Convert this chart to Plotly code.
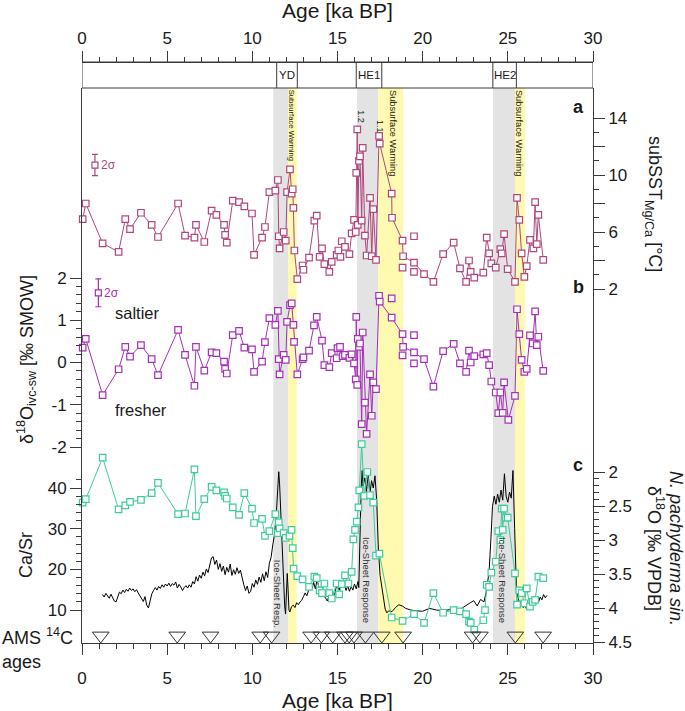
import plotly.graph_objects as go

# ---------------- data ----------------
age_sst = [0.04, 0.22, 1.21, 2.15, 2.54, 2.82, 3.46, 4.09, 4.46, 5.64, 6.05, 6.6, 6.69, 7.18, 7.61, 7.89,
           8.34, 8.4, 8.5, 8.85, 9.22, 9.53, 9.98, 10.1, 10.57, 10.74, 11.0, 11.35, 11.5, 11.55, 11.6, 11.84,
           11.96, 12.04, 12.21, 12.31, 12.37, 12.41, 12.47, 12.64, 12.95, 13.0, 13.33, 13.64, 13.78, 13.95,
           14.09, 14.23, 14.52, 14.66, 14.95, 15.05, 15.17, 15.25, 15.44, 15.7, 15.83, 15.97, 16.07, 16.1,
           16.16, 16.19, 16.26, 16.32, 16.42, 16.48, 16.61, 16.71, 16.91, 17.01, 17.1, 17.26, 17.44, 17.48,
           18.18, 18.2, 18.82, 18.85, 19.49, 20.08, 20.63, 21.2, 21.82, 22.19, 22.55, 22.72, 22.82, 23.03,
           23.56, 23.76, 23.9, 24.03, 24.29, 24.56, 24.64, 24.78, 24.99, 25.42, 25.54, 25.67, 25.81, 25.97,
           26.11, 26.3, 26.5, 26.6, 26.7, 26.79, 27.08]
sst = [6.9, 8.0, 5.2, 4.6, 6.9, 6.2, 7.35, 6.5, 5.65, 8.0, 5.75, 5.6, 6.5, 5.3, 7.5, 7.2,
       6.5, 5.8, 5.25, 8.2, 8.1, 7.8, 7.3, 4.4, 5.6, 6.35, 8.8, 8.9, 9.65, 5.7, 4.85, 6.0,
       5.4, 8.8, 10.4, 8.7, 9.0, 7.7, 4.7, 2.7, 3.65, 3.35, 4.2, 6.8, 7.15, 4.25,
       4.85, 3.75, 3.2, 3.9, 4.4, 4.7, 4.25, 5.35, 4.95, 4.45, 5.9, 6.85, 6.0, 10.15,
       13.2, 6.5, 11.0, 11.3, 6.8, 11.9, 5.75, 4.35, 8.4, 4.3, 7.6, 4.05, 12.75, 12.2,
       8.7, 7.0, 5.4, 4.3, 3.85, 3.05, 2.5, 4.45, 5.25, 3.45, 2.5, 4.0, 3.2, 2.8,
       3.15, 5.6, 4.5, 3.8, 3.5, 4.8, 4.5, 5.85, 3.4, 2.5, 8.4, 6.85, 4.5, 2.85,
       3.6, 5.45, 4.85, 8.1, 5.15, 7.2, 4.05]
age_sst_rep = [18.82, 19.49, 19.49]
sst_rep = [3.5, 5.7, 3.2]

age_sw = [0.04, 0.22, 1.21, 2.15, 2.54, 2.82, 3.46, 4.09, 4.46, 5.64, 6.05, 6.6, 6.69, 7.18, 7.61, 7.89,
          8.34, 8.4, 8.5, 8.85, 9.22, 9.53, 9.98, 10.1, 10.57, 10.74, 11.0, 11.35, 11.5, 11.55, 11.6, 11.84,
          11.96, 12.04, 12.21, 12.31, 12.41, 12.45, 12.64, 12.95, 13.0, 13.33, 13.62, 13.78, 14.09, 14.23,
          14.52, 14.66, 14.95, 15.0, 15.15, 15.3, 15.44, 15.7, 15.83, 15.97, 16.07, 16.1, 16.16, 16.19,
          16.26, 16.32, 16.42, 16.48, 16.61, 16.71, 16.91, 17.01, 17.1, 17.26, 17.44, 17.48, 18.18, 18.82,
          18.85, 19.49, 20.08, 20.63, 21.2, 21.82, 22.19, 22.55, 22.72, 22.82, 23.03, 23.56, 23.76, 23.9,
          24.03, 24.29, 24.44, 24.56, 24.7, 24.78, 25.03, 25.42, 25.54, 25.67, 25.81, 25.97, 26.11, 26.3,
          26.46, 26.6, 26.7, 26.79, 27.08]
d18o_sw = [0.35, 0.56, -0.77, -0.16, 0.37, 0.14, 0.41, 0.08, -0.3, 0.77, 0.18, -0.55, 0.37, -0.19, 0.24, 0.22,
           0.02, -0.15, -0.26, 0.65, 0.75, 0.35, 0.31, -0.22, 0.02, 0.48, 1.05, 0.89, 1.22, 0.08, -0.28, 0.18,
           0.06, 0.96, 1.36, 1.4, 0.89, 0.49, -0.28, 0.08, 0.12, 0.28, 0.88, 1.08, 0.52, -0.06,
           -0.11, 0.22, 0.1, 0.34, 0.37, 0.15, 0.18, 0.11, 0.19, -0.02, -0.4, 1.08, -0.53, 0.56,
           0.37, 0.45, -1.46, 0.71, -0.95, -1.69, -0.28, -1.26, -0.47, -0.63, 1.58, 1.44, 1.06, 0.67,
           0.37, 0.24, 0.08, -0.57, 0.27, 0.44, -0.02, -0.22, 0.28, 0.0, 0.15, 0.19, 0.22, -0.06,
           -0.45, -0.71, -1.2, -0.71, -1.19, -0.47, -1.36, -0.79, 1.26, 0.67, 0.06, -0.22, -0.15, 0.64,
           0.45, 1.21, 0.41, 0.61, -0.2]
age_sw_rep = [18.18, 18.82, 19.49, 19.49]
d18o_sw_rep = [1.52, 0.17, 0.65, -0.02]

age_npach = [0.04, 0.22, 1.21, 2.15, 2.54, 2.82, 3.46, 4.09, 4.46, 5.64, 6.05, 6.6, 6.69, 7.18, 7.61, 7.89,
             8.34, 8.4, 8.5, 8.85, 9.22, 9.53, 9.98, 10.1, 10.57, 10.74, 11.0, 11.35, 11.5, 11.55, 11.6, 11.84,
             11.96, 12.18, 12.3, 12.37, 12.42, 12.64, 12.95, 13.33, 13.64, 13.78, 13.95, 14.09, 14.23, 14.52,
             14.66, 14.95, 15.1, 15.25, 15.44, 15.64, 15.83, 15.93, 16.03, 16.13, 16.23, 16.28, 16.42, 16.57,
             16.75, 16.91, 17.1, 17.26, 17.46, 18.18, 18.82, 19.49, 20.08, 20.63, 21.2, 21.82, 22.19, 22.55,
             22.72, 22.82, 23.03, 23.56, 23.66, 23.76, 23.9, 24.03, 24.29, 24.44, 24.56, 24.64, 24.7, 24.78,
             24.89, 24.99, 25.42, 25.54, 25.67, 25.81, 25.97, 26.11, 26.3, 26.46, 26.6, 26.79, 27.08]
d18o_npach = [2.45, 2.4, 1.79, 2.55, 2.49, 2.44, 2.41, 2.31, 2.16, 2.62, 2.61, 1.96, 2.65, 2.4, 2.22, 2.27,
              2.3, 2.35, 2.39, 2.52, 2.63, 2.31, 2.54, 2.75, 2.69, 2.94, 2.87, 2.62, 2.9, 2.74, 2.83, 2.9,
              2.97, 2.94, 2.85, 3.12, 3.42, 3.53, 3.58, 3.69, 3.54, 3.56, 3.74, 3.78, 3.64, 3.78,
              3.86, 3.64, 3.8, 3.65, 3.52, 3.64, 3.47, 2.99, 2.85, 2.73, 2.52, 2.27, 1.59, 2.35,
              2.0, 2.34, 2.45, 3.23, 3.2, 4.14, 4.19, 4.09, 4.22, 3.78, 4.07, 4.03, 4.05, 4.09,
              4.2, 4.22, 4.32, 4.18, 4.03, 3.66, 3.69, 3.48, 3.32, 2.87, 3.0, 2.54, 2.85, 2.54,
              2.67, 2.67, 3.49, 3.95, 3.74, 3.78, 3.93, 3.71, 3.98, 3.91, 3.88, 3.54, 3.56]

age_casr = [1.2, 1.3, 1.4, 1.5, 1.6, 1.7, 1.8, 1.9, 2.0, 2.1, 2.2, 2.3, 2.4, 2.5, 2.6, 2.7, 2.8, 2.9, 3.0,
            3.1, 3.2, 3.3, 3.4, 3.5, 3.6, 3.7, 3.8, 3.9, 4.0, 4.1, 4.2, 4.3, 4.4, 4.5, 4.6, 4.7, 4.8, 4.9,
            5.0, 5.1, 5.2, 5.3, 5.4, 5.5, 5.6, 5.7, 5.8, 5.9, 6.0, 6.1, 6.2, 6.3, 6.4, 6.5, 6.6, 6.7, 6.8,
            6.9, 7.0, 7.1, 7.2, 7.3, 7.4, 7.5, 7.6, 7.7, 7.8, 7.9, 8.0, 8.1, 8.2, 8.3, 8.4, 8.5, 8.6, 8.7,
            8.8, 8.9, 9.0, 9.1, 9.2, 9.3, 9.4, 9.5, 9.6, 9.7, 9.8, 9.9, 10.0, 10.1, 10.2, 10.3, 10.4, 10.5,
            10.6, 10.7, 10.8, 10.9, 11.0, 11.1, 11.2, 11.3, 11.4, 11.45, 11.5, 11.55, 11.6, 11.65, 11.7,
            11.75, 11.8, 11.85, 11.9, 11.95, 12.0, 12.05, 12.1, 12.15, 12.2, 12.3, 12.4, 12.5, 12.6, 12.7,
            12.8, 12.9, 13.0, 13.1, 13.2, 13.3, 13.4, 13.5, 13.6, 13.7, 13.8, 13.9, 14.0, 14.1, 14.2, 14.3,
            14.4, 14.5, 14.6, 14.7, 14.8, 14.9, 15.0, 15.1, 15.2, 15.3, 15.4, 15.5, 15.6, 15.7, 15.8, 15.9,
            16.0, 16.1, 16.2, 16.25, 16.3, 16.35, 16.4, 16.45, 16.5, 16.6, 16.7, 16.8, 16.9, 17.0, 17.1,
            17.2, 17.3, 17.4, 17.5, 17.6, 17.7, 17.8, 17.9, 18.0, 18.2, 18.4, 18.6, 18.8, 19.0, 19.3, 19.6,
            20.0, 20.4, 20.8, 21.2, 21.6, 22.0, 22.3, 22.6, 22.8, 23.0, 23.2, 23.4, 23.6, 23.75, 23.9, 24.0,
            24.1, 24.2, 24.3, 24.4, 24.5, 24.6, 24.7, 24.8, 24.9, 25.0, 25.1, 25.2, 25.3, 25.4, 25.45, 25.5,
            25.6, 25.7, 25.8, 25.9, 26.0, 26.1, 26.2, 26.3, 26.4, 26.5, 26.6, 26.7, 26.8, 26.9, 27.0, 27.1,
            27.2, 27.3]
casr = [13.8, 13.2, 14.1, 13.5, 12.9, 13.9, 13.1, 12.2, 12.0, 13.5, 14.4, 14.0, 14.9, 14.3, 15.1, 14.6, 15.4,
        14.8, 15.2, 14.5, 15.0, 14.2, 13.6, 13.0, 12.1, 13.3, 11.2, 10.5, 12.4, 14.0, 14.8, 15.5, 14.9, 15.8,
        15.3, 16.2, 15.6, 16.4, 15.9, 16.6, 15.8, 16.5, 16.1, 16.9, 15.4, 16.3, 15.7, 14.8, 15.5, 16.0, 15.4,
        16.2, 15.6, 17.0, 16.4, 18.2, 17.1, 18.6, 17.8, 19.3, 18.4, 20.1, 19.2, 21.0, 22.8, 23.1, 21.2, 22.3,
        20.0, 21.4, 19.5, 20.8, 18.7, 20.5, 19.3, 21.3, 18.5, 19.9, 18.8, 20.4, 19.0, 19.8, 17.6, 16.2, 14.8,
        15.9, 14.1, 14.6, 16.5, 15.6, 17.4, 16.3, 18.1, 16.8, 18.9, 17.2, 19.4, 18.0, 21.5, 22.9, 26.0, 28.5,
        33.0, 36.0, 38.5, 44.0, 41.0, 35.5, 30.0, 24.0, 20.0, 14.5, 11.0, 9.0, 12.5, 19.0, 15.0, 10.0, 9.5,
        10.8, 11.2, 10.6, 11.8, 11.3, 12.0, 12.4, 13.3, 14.2, 13.5, 14.8, 16.0, 15.1, 16.8, 15.2, 17.5, 15.8,
        14.4, 15.3, 13.6, 12.9, 12.2, 13.4, 12.6, 14.0, 13.1, 15.2, 16.4, 14.9, 17.2, 15.6, 16.3, 14.8, 16.0,
        14.6, 15.8, 14.9, 16.4, 15.2, 17.0, 15.5, 22.0, 33.0, 41.0, 44.3, 40.5, 42.5, 39.0, 43.5, 38.5, 41.8,
        40.0, 43.0, 37.0, 25.0, 18.5, 16.0, 12.5, 10.2, 9.3, 9.8, 9.6, 10.6, 11.3, 11.0, 10.4, 10.0, 9.8, 9.7,
        10.4, 10.0, 9.8, 10.1, 9.6, 10.5, 11.2, 11.8, 12.3, 11.0, 12.6, 12.0, 14.8, 19.5, 27.0, 35.5, 38.0,
        36.0, 38.5, 36.5, 39.5, 37.0, 43.5, 38.0, 36.5, 39.0, 37.5, 44.3, 30.0, 22.5, 15.8, 13.0, 11.5, 12.4,
        10.6, 11.2, 10.2, 11.0, 10.4, 11.6, 12.3, 11.5, 12.8, 11.9, 13.2, 12.5, 13.8, 13.0, 13.6]

ams_ages = [1.1, 5.59, 7.55, 10.46, 11.13, 13.45, 14.05, 14.72, 15.44, 15.68, 15.97, 16.64, 17.6, 18.85,
            22.93, 23.36, 25.44, 27.07]

err_sst = dict(age=0.76, value=10.7, err=0.75)
err_sw = dict(age=0.96, value=1.65, err=0.33)

event_names = ["YD", "HE1", "HE2"]
event_start = [11.43, 16.1, 24.12]
event_end = [12.64, 17.6, 25.5]
ice_start = [11.23, 16.15, 24.13]
ice_end = [12.1, 17.4, 25.43]
warm_end = [12.6, 18.85, 26.0]
ice_label = ["Ice-Sheet Resp.", "Ice-Sheet Response", "Ice-Sheet Response"]
ice_label_x = [11.49, 16.73, 24.72]
warm_label_x = [12.35, 18.26, 25.66]

# ---------------- layout geometry ----------------
W, H = 685, 711
L, R, T, B = 82, 92, 62, 68
PW, PH = W - L - R, H - T - B
BOTTOM = H - B
PANEL_TOP = 88
D = (BOTTOM - PANEL_TOP) / PH


def yp(py):
    return (BOTTOM - py) / PH


def xp(px):
    return (px - L) / PW


def rng(v_ref, py_ref, ppu, rev=False):
    if rev:
        return [v_ref + (BOTTOM - py_ref) / ppu, v_ref - (py_ref - PANEL_TOP) / ppu]
    return [v_ref - (BOTTOM - py_ref) / ppu, v_ref + (py_ref - PANEL_TOP) / ppu]


FONT = "Liberation Sans, Arial, sans-serif"
AX = "#3a3a3a"
TXT = "#1a1a1a"
PINK = "#B0467E"
PURPLE = "#A62FB8"
TEAL = "#3ECB9C"
GREY = "#E3E3E3"
YELLOW = "#FFFAAF"

fig = go.Figure()

# Ca/Sr
fig.add_trace(go.Scatter(x=age_casr, y=casr, yaxis="y2", mode="lines",
                         line=dict(color="black", width=1), hoverinfo="skip"))
# delta18O sw (b)
fig.add_trace(go.Scatter(x=age_sw, y=d18o_sw, yaxis="y", mode="lines+markers",
                         line=dict(color=PURPLE, width=1),
                         marker=dict(symbol="square", size=6.5, color="white",
                                     line=dict(color=PURPLE, width=1.2)), cliponaxis=False))
fig.add_trace(go.Scatter(x=age_sw_rep, y=d18o_sw_rep, yaxis="y", mode="markers",
                         marker=dict(symbol="square", size=6.5, color="white",
                                     line=dict(color=PURPLE, width=1.2))))
fig.add_trace(go.Scatter(x=[err_sw["age"]], y=[err_sw["value"]], yaxis="y", mode="markers",
                         error_y=dict(type="data", array=[err_sw["err"]], color=PURPLE, thickness=1.2, width=3),
                         marker=dict(symbol="square", size=6, color="white", line=dict(color=PURPLE, width=1.2))))
# SST (a)
fig.add_trace(go.Scatter(x=age_sst, y=sst, yaxis="y3", mode="lines+markers",
                         line=dict(color=PINK, width=1),
                         marker=dict(symbol="square", size=6.5, color="white",
                                     line=dict(color=PINK, width=1.2)), cliponaxis=False))
fig.add_trace(go.Scatter(x=age_sst_rep, y=sst_rep, yaxis="y3", mode="markers",
                         marker=dict(symbol="square", size=6.5, color="white",
                                     line=dict(color=PINK, width=1.2))))
fig.add_trace(go.Scatter(x=[err_sst["age"]], y=[err_sst["value"]], yaxis="y3", mode="markers",
                         error_y=dict(type="data", array=[err_sst["err"]], color=PINK, thickness=1.2, width=3),
                         marker=dict(symbol="square", size=6, color="white", line=dict(color=PINK, width=1.2))))
# N. pachyderma d18O (c)
fig.add_trace(go.Scatter(x=age_npach, y=d18o_npach, yaxis="y4", mode="lines+markers",
                         line=dict(color=TEAL, width=1),
                         marker=dict(symbol="square", size=6.5, color="white",
                                     line=dict(color=TEAL, width=1.2)), cliponaxis=False))
# AMS 14C ages
fig.add_trace(go.Scatter(x=ams_ages, y=[7.25] * len(ams_ages), yaxis="y5", mode="markers",
                         marker=dict(symbol="triangle-down-open", size=14.5, color="#333",
                                     line=dict(width=1)), cliponaxis=False))
# carriers for the top age axis and the unlabelled subSST ticks (no visible marks)
fig.add_trace(go.Scatter(x=[None], y=[None], xaxis="x2", yaxis="y", mode="markers", hoverinfo="skip"))
fig.add_trace(go.Scatter(x=[None], y=[None], yaxis="y6", mode="markers", hoverinfo="skip"))

shapes = []
for s, e, w in zip(ice_start, ice_end, warm_end):
    shapes.append(dict(type="rect", xref="x", yref="paper", x0=s, x1=e, y0=0, y1=D,
                       fillcolor=GREY, line=dict(width=0), layer="below"))
    shapes.append(dict(type="rect", xref="x", yref="paper", x0=e, x1=w, y0=0, y1=D,
                       fillcolor=YELLOW, line=dict(width=0), layer="below"))
shapes.append(dict(type="rect", xref="x", yref="paper", x0=0, x1=30, y0=D, y1=1,
                   line=dict(color=AX, width=1), fillcolor="rgba(0,0,0,0)"))
for s, e in zip(event_start, event_end):
    for v in (s, e):
        shapes.append(dict(type="line", xref="x", yref="paper", x0=v, x1=v, y0=D, y1=1,
                           line=dict(color=AX, width=1)))

ann = []
def A(text, x, y, size, xref="x", yref="paper", angle=0, color=TXT, xanchor="center", yanchor="middle", **kw):
    ann.append(dict(text=text, x=x, y=y, xref=xref, yref=yref, textangle=angle, showarrow=False,
                    font=dict(family=FONT, size=size, color=color), xanchor=xanchor, yanchor=yanchor, **kw))

for n, s, e in zip(event_names, event_start, event_end):
    A(n, (s + e) / 2, yp(75), 11.5)
for x, fs, cy in zip(warm_label_x, [7.7, 9.3, 9.3], [126, 133, 133]):
    A("Subsurface Warming", x, yp(cy), fs, angle=90)
A("1.2", 16.36, yp(117), 9, angle=90)
A("1.1", 17.5, yp(126), 9, angle=90)
for t, x in zip(ice_label, ice_label_x):
    A(t, x, yp(593.5) if t.endswith(".") else yp(580), 9.5, angle=90, color="#333")
A("saltier", 1.83, yp(313), 16.5, xanchor="left")
A("fresher", 1.83, yp(410), 16.5, xanchor="left")
A("2σ", 1.02, err_sst["value"], 12, yref="y3", color=PINK, xanchor="left")
A("2σ", 1.2, err_sw["value"], 12, yref="y", color=PURPLE, xanchor="left")
A("<b>a</b>", xp(578), yp(107), 18, xref="paper")
A("<b>b</b>", xp(578), yp(287), 18, xref="paper")
A("<b>c</b>", xp(578), yp(465), 18, xref="paper")
A("δ<sup>18</sup>O<sub>ivc-sw</sub> [‰ SMOW]", xp(26), yp(360), 18, xref="paper", angle=-90)
A("Ca/Sr", xp(26), yp(555), 18, xref="paper", angle=-90)
A("AMS <sup>14</sup>C", xp(0), yp(636), 18, xref="paper", xanchor="left")
A("ages", xp(0), yp(662), 18, xref="paper", xanchor="left")
A("subSST<sub>Mg/Ca</sub> [°C]", xp(653), yp(204), 18, xref="paper", angle=90)
A("<i>N. pachyderma sin.</i>", xp(676), yp(548), 18, xref="paper", angle=90)
A("δ<sup>18</sup>O [‰ VPDB]", xp(656), yp(548), 18, xref="paper", angle=90)
A("Age [ka BP]", 0.5, yp(10), 21, xref="paper")
A("Age [ka BP]", 0.5, yp(700), 21, xref="paper")

x_major = [0, 5, 10, 15, 20, 25, 30]
x_minor = [v for v in range(31) if v % 5]
tickfont = dict(family=FONT, size=17, color=TXT)


def xax(**kw):
    d = dict(range=[0, 30], showline=True, linecolor=AX, linewidth=1, ticks="outside", ticklen=11,
             tickwidth=1, tickcolor=AX, tickmode="array", tickvals=x_major, tickfont=tickfont,
             minor=dict(tickmode="array", tickvals=x_minor, ticks="outside", ticklen=5, tickcolor=AX),
             showgrid=False, zeroline=False, fixedrange=True)
    d.update(kw)
    return d


def yax(ticks_major, labels, minor, r, **kw):
    d = dict(range=r, showline=False, ticks="outside", ticklen=11, tickwidth=1, tickcolor=AX,
             tickmode="array", tickvals=ticks_major, ticktext=labels, tickfont=tickfont,
             minor=dict(tickmode="array", tickvals=minor, ticks="outside", ticklen=5, tickcolor=AX),
             showgrid=False, zeroline=False, anchor="x", fixedrange=True)
    d.update(kw)
    return d


b_minor = [round(-2 + 0.2 * i, 1) for i in range(21) if i % 5]
casr_minor = [v for v in range(12, 43, 2) if v % 10]
a_minor = list(range(3, 14, 2))
c_minor = [round(2 + 0.1 * i, 1) for i in range(26) if i % 5]
sst_range = rng(2, 289, 14.25)

fig.update_layout(
    width=W, height=H, margin=dict(l=L, r=R, t=T, b=B, pad=0),
    paper_bgcolor="white", plot_bgcolor="white", showlegend=False,
    font=dict(family=FONT, color=TXT),
    xaxis=xax(anchor="y", domain=[0, 1], ticklabelstandoff=9),
    xaxis2=xax(overlaying="x", side="top", anchor="free", position=1),
    yaxis=yax([-2, -1, 0, 1, 2], ["-2", "-1", "0", "1", "2"], b_minor, rng(2, 278, 42.25),
              domain=[0, D], side="left", showline=True, linecolor=AX, linewidth=1),
    yaxis2=yax([10, 20, 30, 40], ["10", "20", "30", "40"], casr_minor, rng(40, 488, 4.067),
               overlaying="y", side="left"),
    yaxis3=yax([2, 6, 10, 14], ["2", "6", "10", "14"], a_minor, sst_range,
               overlaying="y", side="right", showline=True, linecolor=AX, linewidth=1),
    yaxis4=yax([2, 2.5, 3, 3.5, 4, 4.5], ["2", "2.5", "3", "3.5", "4", "4.5"], c_minor,
               rng(2, 472, 68, rev=True), overlaying="y", side="right"),
    yaxis5=dict(range=[0, BOTTOM - PANEL_TOP], overlaying="y", visible=False, fixedrange=True),
    yaxis6=dict(range=sst_range, overlaying="y", side="right", anchor="x", tickmode="array",
                tickvals=[4, 8, 12], ticks="outside", ticklen=11, tickwidth=1, tickcolor=AX,
                showticklabels=False, showgrid=False, zeroline=False, showline=False, fixedrange=True),
    shapes=shapes, annotations=ann,
)

fig.write_html("out.html", post_script="document.body.style.margin='0px';",
               config={"displayModeBar": False})
